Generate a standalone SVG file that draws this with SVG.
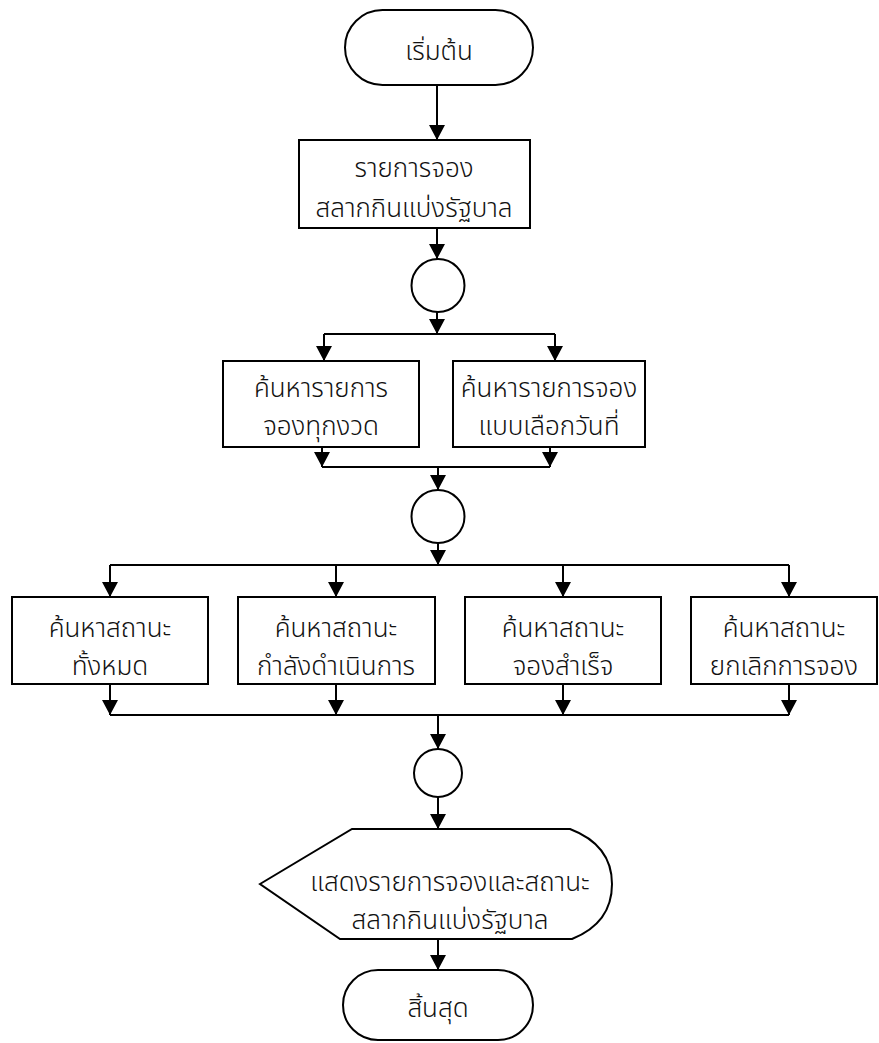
<svg xmlns="http://www.w3.org/2000/svg" width="879" height="1043" viewBox="0 0 879 1043">
<style>
.s{fill:#fff;stroke:#000;stroke-width:2}
.t{font-family:"Noto Sans Thai","Noto Sans","DejaVu Sans",sans-serif;font-size:26px;font-weight:300;fill:#111;text-anchor:middle}
.c{fill:none;stroke:#000;stroke-width:2}
.a{fill:none;stroke:#000;stroke-width:2;marker-end:url(#ah)}
</style>
<defs>
<marker id="ah" markerUnits="userSpaceOnUse" markerWidth="15" markerHeight="16" viewBox="0 0 15 16" refX="15" refY="8" orient="auto">
<path d="M0,0 L15,8 L0,16 z" fill="#000"/>
</marker>
</defs>
<rect width="879" height="1043" fill="#fff"/>
<g id="connectors">
<path class="a" d="M437,85 V140"/>
<path class="a" d="M437,228 V259"/>
<path class="a" d="M437,312 V334"/>
<path class="c" d="M324,334 H555"/>
<path class="a" d="M324,334 V361"/>
<path class="a" d="M555,334 V361"/>
<path class="a" d="M322,447 V467"/>
<path class="a" d="M550,447 V467"/>
<path class="c" d="M322,467 H550"/>
<path class="a" d="M438,467 V490"/>
<path class="a" d="M438,543 V565"/>
<path class="c" d="M110,565 H789"/>
<path class="a" d="M110,565 V597"/>
<path class="a" d="M336,565 V597"/>
<path class="a" d="M563,565 V597"/>
<path class="a" d="M789,565 V597"/>
<path class="a" d="M110,684 V715"/>
<path class="a" d="M336,684 V715"/>
<path class="a" d="M563,684 V715"/>
<path class="a" d="M789,684 V715"/>
<path class="c" d="M110,715 H789"/>
<path class="a" d="M438,715 V749"/>
<path class="a" d="M438,797 V829"/>
<path class="a" d="M438,939 V970"/>
</g>
<g id="start"><rect class="s" x="345" y="10" width="188" height="75" rx="37.5"/><text class="t" x="439" y="60">เริ่มต้น</text></g>
<g id="list"><rect class="s" x="299" y="140" width="231" height="88"/><text class="t" x="414" y="177">รายการจอง</text><text class="t" x="414" y="217">สลากกินแบ่งรัฐบาล</text></g>
<g id="j1"><circle class="s" cx="438" cy="285.5" r="26.5"/></g>
<g id="searchAll"><rect class="s" x="223" y="361" width="196" height="86"/><text class="t" x="321" y="397">ค้นหารายการ</text><text class="t" x="321" y="435">จองทุกงวด</text></g>
<g id="searchDate"><rect class="s" x="453" y="361" width="192" height="86"/><text class="t" x="549" y="397">ค้นหารายการจอง</text><text class="t" x="549" y="435">แบบเลือกวันที่</text></g>
<g id="j2"><circle class="s" cx="438" cy="516.5" r="26.5"/></g>
<g id="stAll"><rect class="s" x="12" y="597" width="196" height="87"/><text class="t" x="110" y="637">ค้นหาสถานะ</text><text class="t" x="110" y="675">ทั้งหมด</text></g>
<g id="stProg"><rect class="s" x="238" y="597" width="197" height="87"/><text class="t" x="336" y="637">ค้นหาสถานะ</text><text class="t" x="336" y="675">กำลังดำเนินการ</text></g>
<g id="stOk"><rect class="s" x="465" y="597" width="196" height="87"/><text class="t" x="563" y="637">ค้นหาสถานะ</text><text class="t" x="563" y="675">จองสำเร็จ</text></g>
<g id="stCancel"><rect class="s" x="691" y="597" width="186" height="87"/><text class="t" x="784" y="637">ค้นหาสถานะ</text><text class="t" x="784" y="675">ยกเลิกการจอง</text></g>
<g id="j3"><circle class="s" cx="438" cy="773" r="24"/></g>
<g id="display"><path class="s" d="M260,884 L352,829 H570 Q612,845 612,884 Q612,923 572,939 H340 Z"/><text class="t" x="450" y="891">แสดงรายการจองและสถานะ</text><text class="t" x="450" y="929">สลากกินแบ่งรัฐบาล</text></g>
<g id="end"><rect class="s" x="343" y="970" width="190" height="70" rx="35"/><text class="t" x="438" y="1017">สิ้นสุด</text></g>
</svg>
